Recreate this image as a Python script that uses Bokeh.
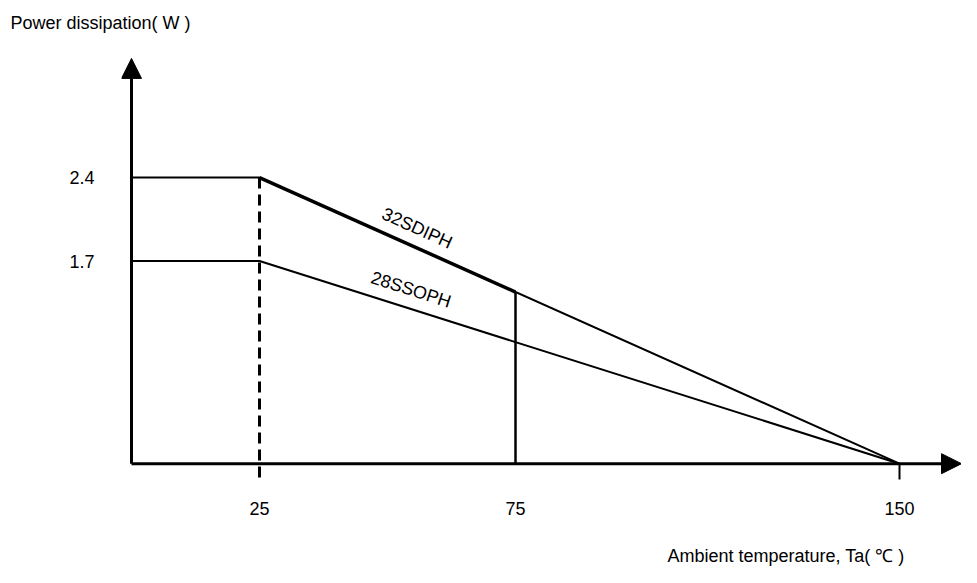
import numpy as np
from bokeh.plotting import figure
from bokeh.models import Range1d, FixedTicker, Arrow, NormalHead, Title
from bokeh.core.properties import value
from bokeh.embed import file_html
from bokeh.resources import INLINE

# ---------------- data ----------------
temp_c = [0, 25, 150]                 # ambient temperature (°C)
p_32sdiph = [2.4, 2.4, 0.0]            # power dissipation (W)
p_28ssoph = [1.7, 1.7, 0.0]
series_names = ["32SDIPH", "28SSOPH"]
x_ticks = [25, 75, 150]
y_ticks = [1.7, 2.4]
derate_start_c = 25
marker_c = 75
x_title = "Ambient temperature, Ta( \u2103 )"
y_title = "Power dissipation( W )"

# ---------------- layout ----------------
W, H = 961, 567
B_LEFT, B_RIGHT, B_TOP, B_BOTTOM = 121, 0, 40, 77
PX_X = 5.12          # pixels per °C
PX_Y = 120.0         # pixels per W
X0_PX = 10           # frame left -> x = 0
Y0_PX = 27           # frame bottom -> y = 0
TICK_DROP_PX = 16
Y_TIP_FROM_TOP_PX = 15
FONT = "Liberation Sans"
FS = "18px"

fw = W - B_LEFT - B_RIGHT
fh = H - B_TOP - B_BOTTOM
x0 = -X0_PX / PX_X
x1 = x0 + fw / PX_X
y0 = -Y0_PX / PX_Y
y1 = y0 + fh / PX_Y

p = figure(width=W, height=H, x_range=Range1d(x0, x1), y_range=Range1d(y0, y1),
           output_backend="svg", toolbar_location=None,
           min_border_left=B_LEFT, min_border_right=B_RIGHT,
           min_border_top=B_TOP, min_border_bottom=B_BOTTOM)
p.grid.visible = False
p.outline_line_color = None
p.background_fill_color = "white"
p.border_fill_color = "white"

for ax, ticks, standoff in ((p.xaxis, x_ticks, 11), (p.yaxis, y_ticks, 27)):
    ax.ticker = FixedTicker(ticks=ticks)
    ax.axis_line_color = None
    ax.major_tick_line_color = None
    ax.minor_tick_line_color = None
    ax.major_tick_out = 0
    ax.major_tick_in = 0
    ax.major_label_standoff = standoff
    ax.major_label_text_font = FONT
    ax.major_label_text_font_size = FS
    ax.major_label_text_color = "black"

# blank axis label used as a spacer between tick labels and the x title
p.xaxis.axis_label = " "
p.xaxis.axis_label_standoff = 5
p.xaxis.axis_label_text_font_size = FS

# axis titles
p.add_layout(Title(text=y_title, align="left", offset=-111, standoff=21,
                   text_font=FONT, text_font_size=FS, text_font_style="normal",
                   text_color="black"), "above")
p.add_layout(Title(text=x_title, align="right", offset=57, standoff=0,
                   vertical_align="top",
                   text_font=FONT, text_font_size=FS, text_font_style="normal",
                   text_color="black"), "below")

# axes with arrow heads
y_tip = y1 - Y_TIP_FROM_TOP_PX / PX_Y
x_tip = x1
p.add_layout(Arrow(end=NormalHead(size=20, fill_color="black", line_color="black", line_width=1),
                   x_start=0, y_start=0, x_end=0, y_end=y_tip, line_width=3, line_color="black"))
p.add_layout(Arrow(end=NormalHead(size=20, fill_color="black", line_color="black", line_width=1),
                   x_start=0, y_start=0, x_end=x_tip, y_end=0, line_width=3, line_color="black"))

# derating curves
p.line(temp_c, p_32sdiph, line_width=2, line_color="black")
p.line(temp_c, p_28ssoph, line_width=2, line_color="black")
p32_at_marker = float(np.interp(marker_c, temp_c, p_32sdiph))
p.line([derate_start_c, marker_c], [max(p_32sdiph), p32_at_marker], line_width=3.5, line_color="black")

drop = TICK_DROP_PX / PX_Y
# dashed derating start line
p.segment(x0=[derate_start_c], y0=[max(p_32sdiph)], x1=[derate_start_c], y1=[-drop],
          line_width=3, line_color="black", line_dash="11 6")
# marker line at 75 °C
p.segment(x0=[marker_c], y0=[p32_at_marker], x1=[marker_c], y1=[0],
          line_width=2.5, line_color="black")
# tick at 150 °C
p.segment(x0=[x_ticks[-1]], y0=[0], x1=[x_ticks[-1]], y1=[-drop],
          line_width=2, line_color="black")

# rotated series labels
label_at_c = [55, 54]
for name, series, at in zip(series_names, [p_32sdiph, p_28ssoph], label_at_c):
    yv = float(np.interp(at, temp_c, series))
    slope_px = (series[1] - series[2]) * PX_Y / ((temp_c[2] - temp_c[1]) * PX_X)
    ang = -np.arctan(slope_px)
    p.text(x=[at], y=[yv], text=[name], angle=ang, text_align="center",
           text_baseline="bottom", y_offset=-9,
           text_font=value(FONT), text_font_size=FS, text_color="black")

open("out.html", "w").write(file_html(p, INLINE))
